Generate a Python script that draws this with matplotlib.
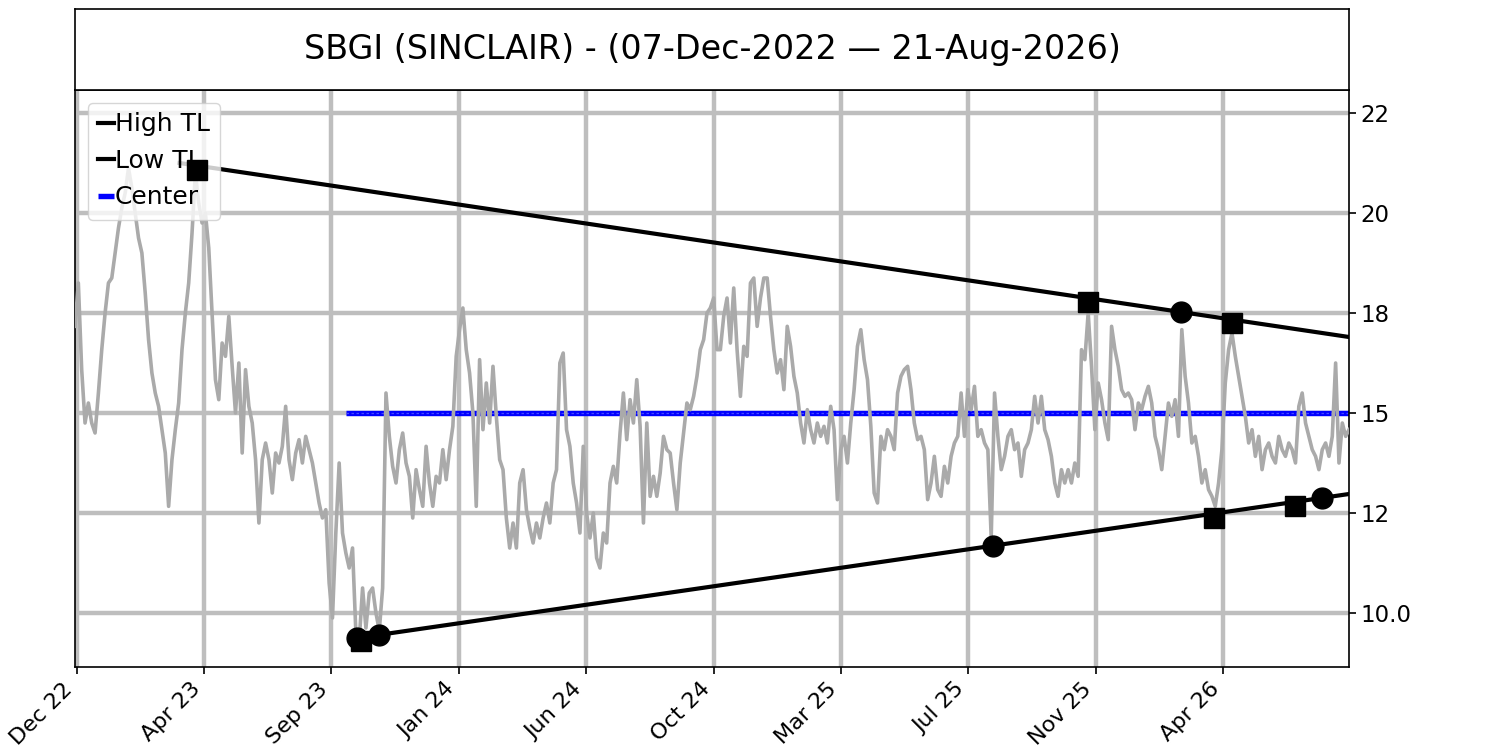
import numpy as np
import pandas as pd
import matplotlib
matplotlib.use("Agg")
import matplotlib.pyplot as plt
import matplotlib.dates as mdates

# ---------------- data ----------------
title = "SBGI (SINCLAIR) - (07-Dec-2022 \u2014 21-Aug-2026)"
start_date = "2022-12-07"
end_date = "2026-08-21"

price = [
    17.6, 18.6, 16.3, 14.7, 15.3, 14.7, 14.4, 15.6, 16.9, 18.0,
    18.6, 18.7, 19.2, 19.7, 20.1, 20.4, 20.9, 20.5, 20.0, 19.5,
    19.2, 18.4, 17.2, 16.2, 15.6, 15.2, 14.5, 13.8, 12.2, 13.6,
    14.5, 15.3, 16.9, 18.0, 18.6, 19.6, 20.8, 20.2, 19.8, 20.0,
    19.3, 18.0, 16.0, 15.4, 17.1, 16.7, 17.9, 16.4, 15.0, 16.5,
    13.8, 16.3, 15.2, 14.7, 13.6, 11.8, 13.6, 14.1, 13.6, 12.6,
    13.8, 13.5, 14.0, 15.2, 13.6, 13.0, 13.8,
    14.2, 13.5, 14.3, 13.9, 13.5, 12.9, 12.3, 11.9, 12.1, 10.6,
    9.9, 11.6, 13.5, 11.6, 11.2, 10.9, 11.3, 9.6, 9.45, 10.5,
    9.7, 10.4, 10.5, 10.0, 9.65, 10.5, 15.6, 14.3, 13.4, 12.9,
    13.9, 14.4, 13.5, 13.1, 11.9, 13.3, 12.7, 12.2, 14.0, 12.9,
    12.2, 13.1, 12.9, 13.9, 13.0, 13.9, 14.6, 16.7, 17.5, 18.1,
    16.9, 16.2, 15.0, 12.2, 16.6, 14.5, 15.9, 14.7, 16.4, 14.9,
    13.6, 13.3, 11.9,
    11.3, 11.8, 11.3, 12.9, 13.3, 12.1, 11.7, 11.4, 11.8, 11.5,
    11.9, 12.3, 11.8, 12.9, 13.3, 16.5, 16.8, 14.5, 14.0, 12.9,
    12.3, 11.6, 14.0, 12.0, 11.5, 12.0, 11.1, 10.9, 11.6, 11.4,
    12.9, 13.4, 12.9, 14.4, 15.6, 14.2, 15.4, 14.7, 16.0, 14.6,
    11.8, 14.7, 12.5, 13.1, 12.5, 13.2, 14.3, 13.9, 13.8, 12.9,
    12.1, 13.5, 14.4, 15.3, 15.1, 15.5, 16.1, 16.9, 17.2, 18.0,
    18.1, 18.3, 16.9,
    16.9, 17.9, 18.3, 17.1, 18.5, 16.9, 15.5, 17.0, 16.7, 18.6,
    18.7, 17.6, 18.3, 18.7, 18.7, 17.9, 16.9, 16.2, 16.6, 15.7,
    17.6, 17.0, 16.1, 15.6, 14.7, 14.1, 15.1, 14.5, 14.1, 14.7,
    14.3, 14.6, 14.1, 15.2, 14.5, 12.4, 13.9, 14.3, 13.5, 14.7,
    15.7, 17.0, 17.5, 16.6, 16.0, 14.6, 12.6, 12.3, 14.3, 13.9,
    14.5, 14.3, 13.9, 15.6, 16.1, 16.3, 16.4, 15.7, 14.7, 14.2,
    14.3, 13.9, 12.4,
    12.9, 13.7, 12.7, 12.5, 13.4, 12.9, 13.7, 14.1, 14.3, 15.6,
    14.3, 15.7, 15.1, 15.8, 14.3, 14.5, 14.1, 13.9, 11.5, 15.6,
    14.3, 13.3, 13.7, 14.3, 14.5, 13.9, 14.1, 13.1, 13.9, 14.1,
    14.5, 15.5, 14.7, 15.5, 14.5, 14.2, 13.7, 12.9, 12.5, 13.3,
    12.9, 13.3, 12.9, 13.5, 13.1, 16.9, 16.6, 18.0, 16.4, 14.5,
    15.9, 15.4, 14.7, 14.2, 17.6, 16.9, 16.4, 15.7, 15.5, 15.6,
    15.4, 14.5, 15.3,
    15.1, 15.5, 15.8, 15.3, 14.3, 13.9, 13.3, 14.3, 15.3, 14.9,
    15.4, 14.3, 17.5, 16.1, 15.3, 14.1, 14.3, 13.7, 12.9, 13.3,
    12.7, 12.5, 12.2, 12.9, 13.9, 15.9, 16.9, 17.4, 16.7, 16.1,
    15.5, 14.9, 14.1, 14.5, 13.7, 14.3, 13.3, 13.9, 14.1, 13.7,
    13.5, 14.3, 13.9, 13.7, 14.1, 13.9, 13.5, 15.2, 15.6, 14.7,
    14.3, 13.9, 13.7, 13.3, 13.9, 14.1, 13.7, 14.3, 16.5, 13.5,
    14.7, 14.3, 14.5,
]

high_tl_dates = ["2023-03-28", "2026-08-21"]
high_tl_values = [21.0, 17.28]
low_tl_dates = ["2023-10-03", "2026-08-21"]
low_tl_values = [9.50, 12.57]
center_dates = ["2023-09-21", "2026-08-21"]
center_values = [15.0, 15.0]

high_sq_dates = ["2023-04-16", "2025-11-17", "2026-04-19"]
high_sq_values = [20.86, 18.23, 17.71]
high_ci_dates = ["2026-02-24"]
high_ci_values = [18.01]
low_sq_dates = ["2023-10-07", "2026-03-31", "2026-06-25"]
low_sq_values = [9.43, 11.91, 12.22]
low_ci_dates = ["2023-10-03", "2023-10-26", "2025-08-08", "2026-07-23"]
low_ci_values = [9.50, 9.56, 11.34, 12.45]

ytick_values = [10, 12, 15, 18, 20, 22]
ytick_labels = ["10.0", "12", "15", "18", "20", "22"]
xtick_labels = ["Dec 22", "Apr 23", "Sep 23", "Jan 24", "Jun 24",
                "Oct 24", "Mar 25", "Jul 25", "Nov 25", "Apr 26"]
y_limits = (8.92, 22.46)

# ---------------- figure ----------------
W, H = 1500, 750
fig = plt.figure(figsize=(15, 7.5), dpi=100)

ax = fig.add_axes([75 / W, 1 - 667 / H, 1274 / W, 577 / H])
tax = fig.add_axes([75 / W, 1 - 89.5 / H, 1274 / W, 80.5 / H])

# piecewise-linear value scale with evenly spaced labelled ticks
tv = np.array(ytick_values, dtype=float)
ext_v = np.concatenate([[tv[0] - (tv[1] - tv[0]) * 50], tv,
                        [tv[-1] + (tv[-1] - tv[-2]) * 50]])
ext_p = np.concatenate([[-50.0], np.arange(len(tv), dtype=float),
                        [len(tv) - 1 + 50.0]])


def fwd(v):
    return np.interp(np.asarray(v, dtype=float), ext_v, ext_p)


def inv(p):
    return np.interp(np.asarray(p, dtype=float), ext_p, ext_v)


ax.set_yscale("function", functions=(fwd, inv))

dates = pd.date_range(start_date, end_date, periods=len(price))
to_dt = lambda lst: pd.to_datetime(lst)

ax.plot(to_dt(center_dates), center_values, color="#0000ff", lw=3.9,
        solid_capstyle="butt", zorder=2, label="Center")
ax.plot(to_dt(center_dates), center_values, color="#4646ff", lw=0.9,
        linestyle=(0, (2, 2)), zorder=2.1)
ax.plot(dates, price, color="#aaaaaa", lw=2.6, zorder=3)
ax.plot(to_dt(high_tl_dates), high_tl_values, color="black", lw=3.0,
        zorder=4, label="High TL")
ax.plot(to_dt(low_tl_dates), low_tl_values, color="black", lw=3.0,
        zorder=4, label="Low TL")

mk = dict(color="black", linestyle="none", markersize=15, zorder=6)
ax.plot(to_dt(high_sq_dates), high_sq_values, marker="s", **mk)
ax.plot(to_dt(high_ci_dates), high_ci_values, marker="o", **mk)
ax.plot(to_dt(low_sq_dates), low_sq_values, marker="s", **mk)
ax.plot(to_dt(low_ci_dates), low_ci_values, marker="o", **mk)

x0 = mdates.date2num(pd.Timestamp(start_date))
x1 = mdates.date2num(pd.Timestamp(end_date))
span = x1 - x0
ax.set_xlim(x0, x1)
ax.set_ylim(*y_limits)

xt = x0 + span * (0.0013 + np.arange(len(xtick_labels)) / 10.0)
ax.set_xticks(xt)
ax.set_xticklabels(xtick_labels, rotation=45, ha="right", fontsize=16)
ax.set_yticks(ytick_values)
ax.set_yticklabels(ytick_labels, fontsize=16.5)
ax.yaxis.tick_right()
ax.minorticks_off()
ax.tick_params(axis="both", length=5, width=1.2)

ax.set_axisbelow(True)
ax.grid(True, color="#bebebe", lw=3.2)
for s in ax.spines.values():
    s.set_linewidth(1.2)

handles, labels = ax.get_legend_handles_labels()
order = [labels.index("High TL"), labels.index("Low TL"), labels.index("Center")]
leg = ax.legend([handles[i] for i in order], [labels[i] for i in order],
                loc="upper left", fontsize=18, handlelength=0.65,
                handletextpad=0.05)
leg.set_zorder(5)

tax.set_xticks([])
tax.set_yticks([])
for s in tax.spines.values():
    s.set_linewidth(1.2)
tax.text(0.5, 0.5, title, ha="center", va="center", fontsize=24,
         transform=tax.transAxes)

fig.savefig("out.png", dpi=100)
